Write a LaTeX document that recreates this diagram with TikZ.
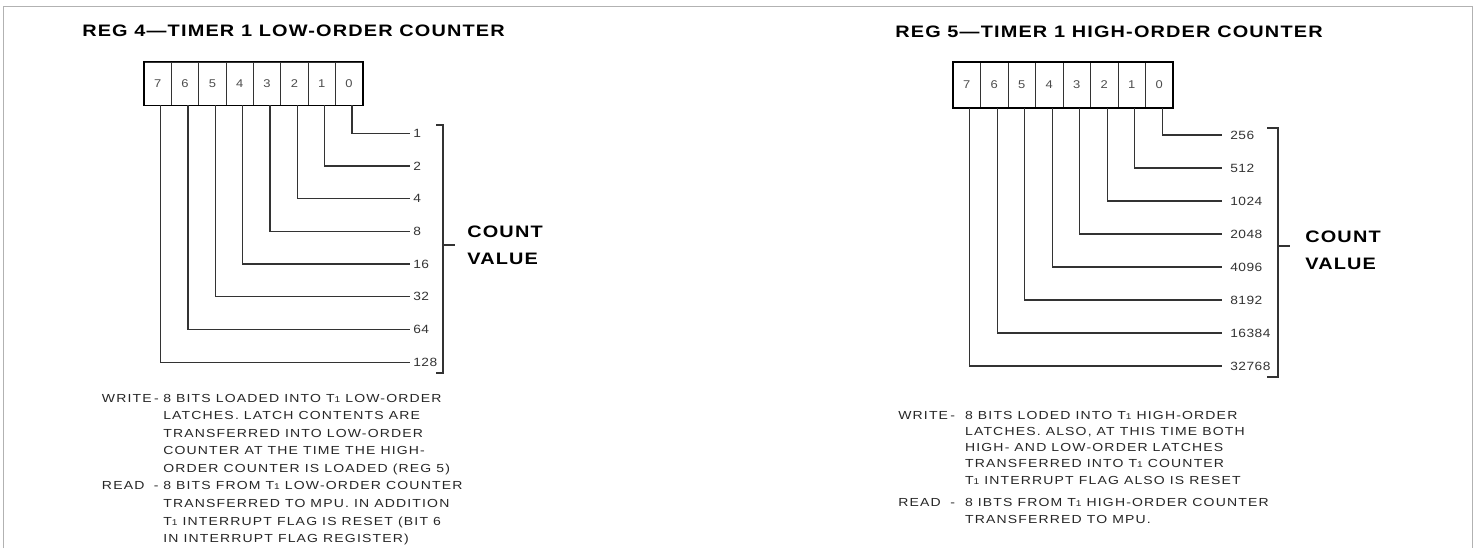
\documentclass[tikz,border=0pt]{standalone}
\usepackage{fontspec}
\setmainfont{Liberation Sans}
\newfontfamily\titlefont{Liberation Sans}[FakeStretch=1.2,LetterSpace=7]
\newfontfamily\notefont{Liberation Sans}[FakeStretch=1.2,LetterSpace=10]
\newfontfamily\digitfont{Liberation Sans}[FakeStretch=1.15,LetterSpace=4]
\newcommand\Tone{T{\fontsize{6}{6}\selectfont 1}}
\tikzset{
  reg_title/.style = {anchor=west, inner sep=0pt,
    font=\titlefont\bfseries\fontsize{11.8}{14}\selectfont},% titre du registre
  bit_cell/.style = {draw=black!80, minimum width=0.684cm,
    minimum height=1.08cm, inner sep=0pt, text=black!70,
    font=\digitfont\fontsize{8}{8}\selectfont},% case d'un bit
  bit_line/.style = {draw=black!80, line width=0.9pt},% liaison bit -> poids
  count_label/.style = {anchor=west, inner sep=0pt, text=black!80,
    font=\digitfont\fontsize{8.5}{9}\selectfont},% poids du bit
  count_title/.style = {anchor=west, align=left, inner sep=0pt,
    font=\titlefont\bfseries\fontsize{11.8}{19}\selectfont},% COUNT VALUE
  note_text/.style = {anchor=base west, inner sep=0pt, text=black!85},% WRITE / READ
  frame_line/.style = {draw=black!30, thin}
}

\begin{document}
\begin{tikzpicture}[x=0.025cm, y=-0.025cm]
  \useasboundingbox (0,0) rectangle (1479,548);
  \draw[frame_line] (3,548) -- (3,6) -- (1472,6) -- (1472,548);

  % REG 4
  \node[reg_title] (title4) at (82,31) {REG 4—TIMER 1 LOW-ORDER COUNTER};
  \foreach \b in {0,...,7}
    \node[bit_cell] (lo\b) at ({144+27.34*(7.5-\b)},83.5) {\b};
  \draw[very thick] (lo7.north west) rectangle (lo0.south east);
  \foreach \b/\v in {0/1,1/2,2/4,3/8,4/16,5/32,6/64,7/128}{
    \node[count_label] (lov\b) at (413,{133.3+32.7*\b}) {\v};
    \draw[bit_line, shorten >=0.075cm] ([xshift=0.075cm]lo\b.south) |- (lov\b.west);
  }
  \draw[bit_line] (436,125) -- (443,125) -- (443,373) -- (436,373);
  \node[count_title] (count4) at (467,245.5) {COUNT\\VALUE};
  \draw[bit_line] (443,245) -- (455,245);
  \node[note_text] (note4) at (101.7,402) {\notefont\fontsize{8.3}{12.5}\selectfont
    \begin{tabular}[t]{@{}l@{}l@{}}
      \makebox[37pt][l]{WRITE}\makebox[6.6pt][l]{-} & 8 BITS LOADED INTO \Tone{} LOW-ORDER\\
      & LATCHES. LATCH CONTENTS ARE\\
      & TRANSFERRED INTO LOW-ORDER\\
      & COUNTER AT THE TIME THE HIGH-\\
      & ORDER COUNTER IS LOADED (REG 5)\\
      \makebox[37pt][l]{READ}\makebox[6.6pt][l]{-} & 8 BITS FROM \Tone{} LOW-ORDER COUNTER\\
      & TRANSFERRED TO MPU. IN ADDITION\\
      & \Tone{} INTERRUPT FLAG IS RESET (BIT 6\\
      & IN INTERRUPT FLAG REGISTER)
    \end{tabular}};

  % REG 5
  \node[reg_title] (title5) at (895,31.7) {REG 5—TIMER 1 HIGH-ORDER COUNTER};
  \foreach \b in {0,...,7}
    \node[bit_cell, minimum height=1.15cm] (hi\b) at ({953+27.5*(7.5-\b)},85) {\b};
  \draw[very thick] (hi7.north west) rectangle (hi0.south east);
  \foreach \b/\v in {0/256,1/512,2/1024,3/2048,4/4096,5/8192,6/16384,7/32768}{
    \node[count_label] (hiv\b) at (1230,{135+33*\b}) {\v};
    \draw[bit_line, shorten >=0.2cm] ([xshift=0.075cm]hi\b.south) |- (hiv\b.west);
  }
  \draw[bit_line] (1267,128) -- (1278,128) -- (1278,377) -- (1267,377);
  \node[count_title] (count5) at (1305,250) {COUNT\\VALUE};
  \draw[bit_line] (1278,246) -- (1290,246);
  \node[note_text] (note5) at (898,419) {\notefont\fontsize{8.3}{11.6}\selectfont
    \begin{tabular}[t]{@{}l@{}l@{}}
      \makebox[37pt][l]{WRITE}\makebox[10.5pt][l]{-} & 8 BITS LODED INTO \Tone{} HIGH-ORDER\\
      & LATCHES. ALSO, AT THIS TIME BOTH\\
      & HIGH- AND LOW-ORDER LATCHES\\
      & TRANSFERRED INTO \Tone{} COUNTER\\
      & \Tone{} INTERRUPT FLAG ALSO IS RESET\\[4.4pt]
      \makebox[37pt][l]{READ}\makebox[10.5pt][l]{-} & 8 IBTS FROM \Tone{} HIGH-ORDER COUNTER\\
      & TRANSFERRED TO MPU.
    \end{tabular}};
\end{tikzpicture}
\end{document}
